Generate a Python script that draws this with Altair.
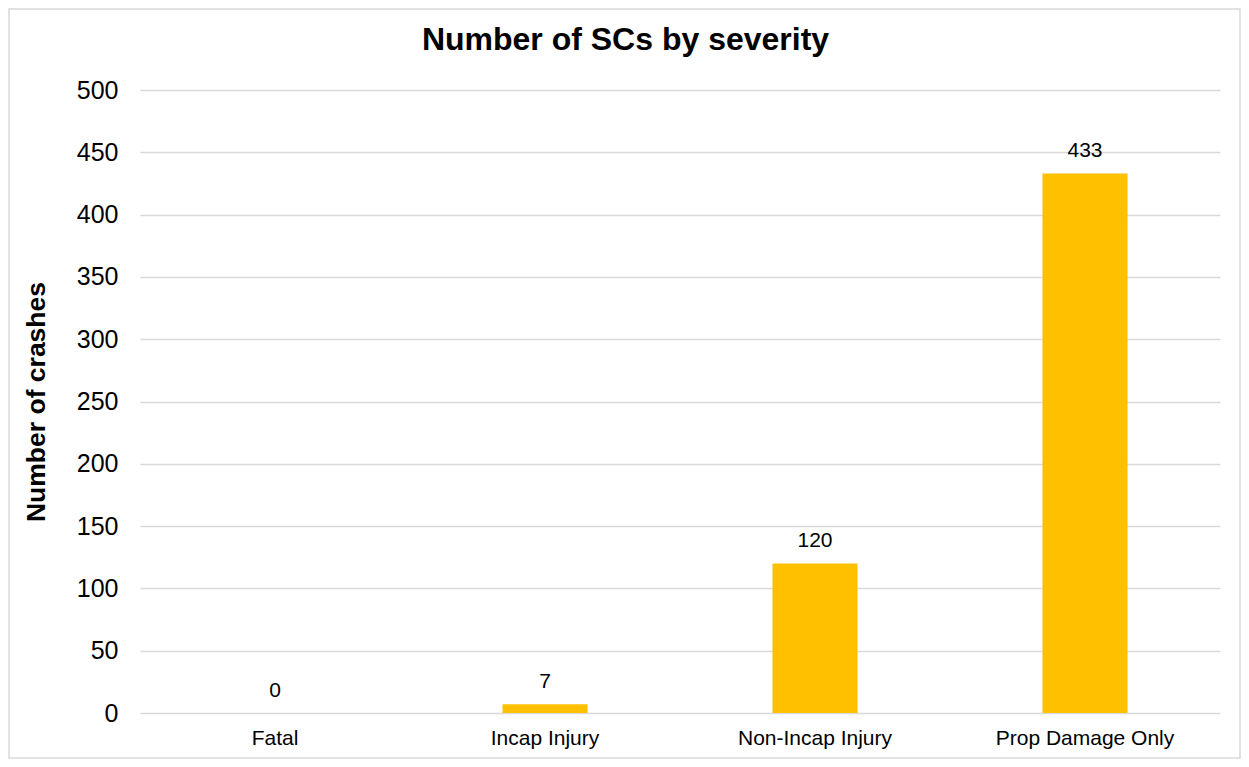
import altair as alt
import pandas as pd

categories = ["Fatal", "Incap Injury", "Non-Incap Injury", "Prop Damage Only"]
counts = [0, 7, 120, 433]
title_text = ["Number of SCs by severity"]

df = pd.DataFrame({"severity": categories, "crashes": counts})

W, H = 1080, 623
FONT = "Liberation Sans"

x_enc = alt.X(
    "severity:N",
    sort=categories,
    scale=alt.Scale(paddingInner=0.685, paddingOuter=0.3425),
    axis=alt.Axis(
        title=None, labelAngle=0, labelFontSize=21, labelColor="#000000",
        labelFont=FONT, ticks=False, domain=False, labelPadding=14, grid=False,
    ),
)
y_enc = alt.Y(
    "crashes:Q",
    scale=alt.Scale(domain=[0, 500], nice=False),
    axis=alt.Axis(
        title="Number of crashes", titleFontSize=26.5, titleFont=FONT,
        titleFontWeight="bold", titleColor="#000000",
        titleX=-104, titleY=H / 2, titleAlign="center", titleBaseline="middle",
        titleAngle=270,
        values=list(range(0, 501, 50)), labelFontSize=25, labelFont=FONT,
        labelColor="#000000", labelPadding=22, ticks=False, domain=False,
        gridColor="#D9D9D9", gridWidth=1.5,
    ),
)

bars = alt.Chart(df).mark_bar(color="#FFC000").encode(x=x_enc, y=y_enc)

labels = alt.Chart(df).mark_text(
    dy=-16, fontSize=21, font=FONT, color="#000000", baseline="alphabetic"
).encode(
    x=alt.X("severity:N", sort=categories),
    y="crashes:Q",
    text="crashes:Q",
)

frame = alt.Chart(pd.DataFrame({"a": [0]})).mark_rect(
    fill=None, stroke="#D9D9D9", strokeWidth=1.5
).encode(
    x=alt.value(-131), x2=alt.value(W + 20),
    y=alt.value(-81), y2=alt.value(H + 45),
)

title = alt.Chart(pd.DataFrame({"t": title_text})).mark_text(
    fontSize=32, font=FONT, fontWeight="bold", color="#000000",
    align="center", baseline="alphabetic",
).encode(
    x=alt.value(485.5), y=alt.value(-40), text="t:N",
)

chart = alt.layer(frame, bars, labels, title).properties(
    width=W, height=H,
    padding={"left": 132, "top": 82, "right": 21, "bottom": 46},
    autosize=alt.AutoSizeParams(type="none"),
    background="#FFFFFF",
).configure_view(stroke=None)

chart.save("out.html", embed_options={"renderer": "svg", "actions": False})
